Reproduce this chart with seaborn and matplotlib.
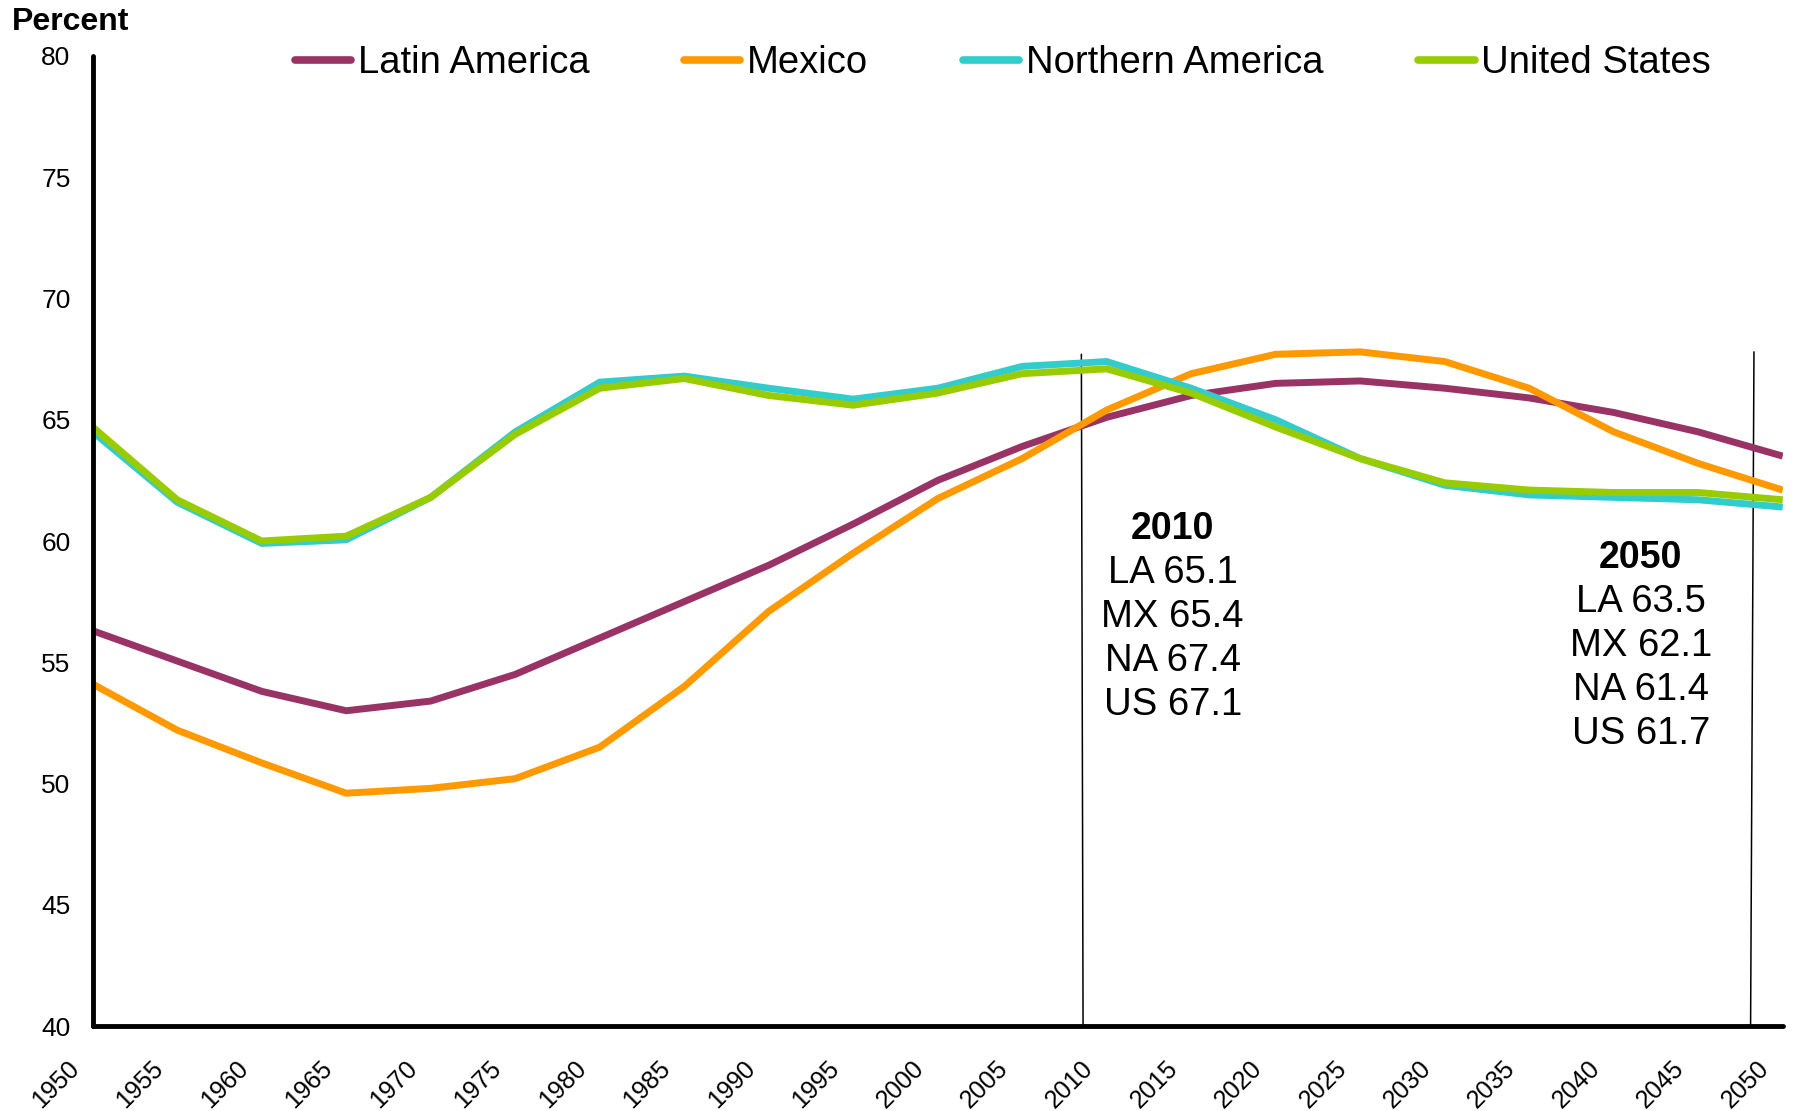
import matplotlib
matplotlib.use("Agg")
import matplotlib.pyplot as plt
import matplotlib.transforms as mtransforms
import seaborn as sns
import numpy as np
import pandas as pd

# Data (percent of population)
years = list(range(1950, 2055, 5))
latin_america = [56.3, 55.05, 53.8, 53.0, 53.4, 54.5, 56.0, 57.5, 59.0, 60.7, 62.5,
                 63.9, 65.1, 66.0, 66.5, 66.6, 66.3, 65.9, 65.3, 64.5, 63.5]
mexico = [54.1, 52.2, 50.85, 49.6, 49.8, 50.2, 51.5, 54.0, 57.1, 59.5, 61.75,
          63.4, 65.4, 66.9, 67.7, 67.8, 67.4, 66.3, 64.5, 63.2, 62.1]
northern_america = [64.5, 61.6, 59.9, 60.05, 61.8, 64.5, 66.55, 66.8, 66.3, 65.85, 66.3,
                    67.2, 67.4, 66.3, 65.0, 63.4, 62.3, 61.9, 61.8, 61.7, 61.4]
united_states = [64.7, 61.7, 60.0, 60.2, 61.8, 64.4, 66.3, 66.7, 66.0, 65.6, 66.1,
                 66.9, 67.1, 66.1, 64.7, 63.4, 62.4, 62.1, 62.0, 62.0, 61.7]

series_names = ["Latin America", "Mexico", "Northern America", "United States"]
series_codes = ["LA", "MX", "NA", "US"]
colors = ["#993366", "#FF9900", "#33CCCC", "#99CC00"]
highlight_years = [2010, 2050]

df = pd.DataFrame({
    "year": years * 4,
    "value": latin_america + mexico + northern_america + united_states,
    "series": [n for n in series_names for _ in years],
})

sns.set_style("white")
plt.rcParams["font.family"] = ["Liberation Sans", "DejaVu Sans"]
plt.rcParams["text.color"] = "black"

fig = plt.figure(figsize=(17.94, 11.11), dpi=100)
ax = fig.add_axes([0.0517, 0.0765, 0.942, 0.8731])

for name, color in zip(series_names, colors):
    sns.lineplot(data=df[df["series"] == name], x="year", y="value",
                 color=color, linewidth=5, label=name, ax=ax,
                 solid_capstyle="butt", solid_joinstyle="miter")

ax.set_xlim(1950, 2050)
ax.set_ylim(40, 80)
ax.set_xticks(range(1950, 2055, 5))
ax.set_yticks(range(40, 85, 5))
ax.set_xlabel("")
ax.set_ylabel("")

for side in ["top", "right"]:
    ax.spines[side].set_visible(False)
for side in ["left", "bottom"]:
    ax.spines[side].set_linewidth(3.5)
    ax.spines[side].set_color("black")
    ax.spines[side].set_capstyle("round")

ax.tick_params(axis="both", which="major", direction="out", length=6, width=3,
               color="black", labelcolor="black")
ax.tick_params(axis="y", pad=10, labelsize=19)
ax.tick_params(axis="x", pad=15.5, labelsize=18)
shift = mtransforms.ScaledTranslation(-0.26, 0, fig.dpi_scale_trans)
for lbl in ax.get_xticklabels():
    lbl.set_rotation(45)
    lbl.set_ha("right")
    lbl.set_va("top")
    lbl.set_rotation_mode("anchor")
    lbl.set_transform(lbl.get_transform() + shift)

# thin marker lines near 2010 and 2050
ax.plot([2008.5, 2008.6], [67.7, 40], color="black", linewidth=1.1, zorder=1)
ax.plot([2048.3, 2048.1], [67.8, 40], color="black", linewidth=1.1, zorder=1)

# annotation blocks
all_values = [latin_america, mexico, northern_america, united_states]
blocks = [(2013.9, 60.5), (2041.6, 59.3)]
for yr, (bx, by) in zip(highlight_years, blocks):
    idx = years.index(yr)
    ax.annotate(str(yr), xy=(bx, by), ha="center", va="center",
                fontsize=27, fontweight="bold", color="black")
    for k, (code, vals) in enumerate(zip(series_codes, all_values)):
        ax.annotate(f"{code} {vals[idx]:.1f}", xy=(bx, by),
                    xytext=(0, -31.7 * (k + 1)), textcoords="offset points",
                    ha="center", va="center", fontsize=27.5, color="black")

leg = ax.legend(ncol=4, loc="center left", bbox_to_anchor=(0.1644, 0.943),
                bbox_transform=fig.transFigure, frameon=False, fontsize=27.5,
                handlelength=1.47, handletextpad=0.18, columnspacing=2.48,
                borderpad=0, borderaxespad=0, labelcolor="black")
for line in leg.get_lines():
    line.set_linewidth(5.5)
    line.set_solid_capstyle("round")

fig.text(0.0064, 0.98, "Percent", fontsize=23, fontweight="bold", va="center",
         ha="left", color="black")

fig.savefig("out.png", dpi=100)
